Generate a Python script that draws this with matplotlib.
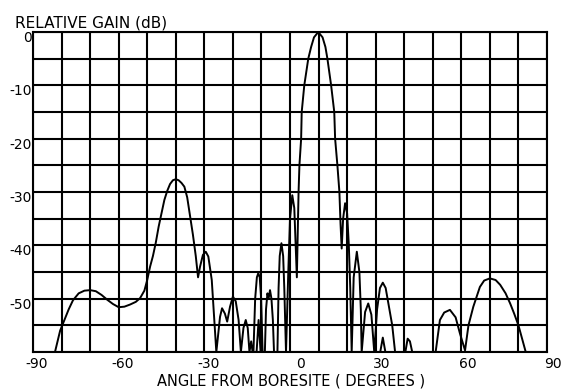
import matplotlib
matplotlib.use('Agg')
import matplotlib.pyplot as plt
import matplotlib.transforms as mtransforms

# main trace (angle in degrees, relative gain in dB)
angle = [-82.3, -80.5, -79.0, -77.5, -76.0, -74.0, -72.0, -70.0, -68.0, -66.0,
         -64.0, -62.0, -60.0, -58.0, -56.0, -54.0, -52.5, -51.0, -50.0, -49.0,
         -48.0, -47.0, -46.0, -45.0, -44.0, -43.0, -42.0, -41.0, -40.0, -39.0,
         -38.0, -37.0, -36.0, -35.0, -34.0, -33.0, -32.2, -31.5, -30.5, -29.5,
         -28.6, -27.4, -26.3, -25.8, -24.5, -23.8, -22.8, -22.0, -21.0, -20.0,
         -19.0, -18.0, -17.2, -16.3, -15.5, -14.8, -14.2, -13.6, -13.1, -12.8,
         -12.2, -11.6, -11.1, -10.6, -10.1, -9.6, -8.8, -8.4, -7.9, -7.5,
         -7.0, -6.5, -6.0, -5.6, -4.4, -4.0, -3.6, -3.0, -2.4, -2.0,
         -1.4, -0.6, 0.0, 0.8, 1.5, 2.1, 2.4, 2.7, 3.0, 3.3,
         3.9, 4.1, 5.0, 6.4, 7.4, 8.4, 9.9, 11.4, 12.4, 13.1,
         14.4, 15.5, 15.8, 16.6, 17.3, 17.7, 18.1, 18.6, 19.3, 20.0,
         20.6, 21.1, 21.6, 22.3, 23.4, 24.3, 24.8, 25.1, 26.3, 27.4,
         28.5, 29.5, 30.5, 31.5, 32.5, 33.5, 34.5, 35.8, 36.8, 40.4,
         41.2, 42.0, 42.8, 51.0, 52.5, 54.0, 56.0, 58.0, 59.5, 61.3,
         62.5, 64.2, 66.5, 68.0, 70.0, 72.0, 73.6, 75.5, 77.1, 78.5,
         80.0, 82.4]
gain = [-60.0, -56.0, -54.0, -52.0, -50.3, -49.0, -48.5, -48.4, -48.6, -49.3,
        -50.2, -51.0, -51.6, -51.5, -51.1, -50.6, -49.9, -48.5, -46.5, -44.0,
        -42.0, -39.5, -36.5, -34.0, -31.5, -29.8, -28.5, -27.8, -27.6, -27.8,
        -28.3, -29.0, -31.0, -34.5, -38.0, -42.0, -46.0, -44.0, -41.8, -41.2,
        -42.1, -46.5, -55.9, -60.0, -53.4, -51.8, -52.8, -54.3, -51.5, -49.6,
        -50.5, -54.0, -60.0, -55.5, -54.0, -55.5, -60.0, -58.0, -60.0, -60.0,
        -50.0, -46.0, -45.2, -46.0, -50.0, -60.0, -60.0, -52.0, -49.0, -50.0,
        -48.4, -50.0, -54.0, -60.0, -60.0, -48.0, -42.0, -39.6, -42.0, -48.0,
        -60.0, -45.0, -35.0, -30.6, -33.0, -42.0, -46.0, -38.0, -30.0, -25.0,
        -20.0, -15.0, -10.0, -5.0, -2.8, -1.0, 0.0, -1.0, -2.8, -5.0,
        -10.0, -15.0, -20.0, -25.0, -30.0, -36.0, -40.6, -35.0, -32.1, -34.0,
        -40.0, -48.0, -60.0, -46.0, -41.2, -45.0, -52.0, -60.0, -52.5, -50.9,
        -53.0, -60.0, -52.0, -48.0, -47.0, -48.0, -51.0, -55.0, -60.0, -60.0,
        -57.5, -58.0, -60.0, -60.0, -54.0, -52.6, -52.1, -53.5, -56.5, -59.7,
        -55.0, -51.5, -47.8, -46.6, -46.2, -46.5, -47.4, -49.0, -50.9, -52.8,
        -55.0, -59.7]

# small inner lobes drawn over the main trace
inner_angle = [-11.7, -11.0, -10.3, None, 31.6, 32.5, 33.4]
inner_gain = [-60.0, -54.0, -60.0, None, -60.0, -57.3, -60.0]

xtick_vals = [-90, -60, -30, 0, 30, 60, 90]
ytick_vals = [0, -10, -20, -30, -40, -50]

plt.rcParams['font.family'] = ['DejaVu Sans']
fig = plt.figure(figsize=(5.62, 3.90), dpi=100)
ax = fig.add_axes([33 / 562, 1 - 352 / 390, 514 / 562, 320 / 390])

ax.plot(angle, gain, color='black', lw=1.4)
ax.plot([float('nan') if a is None else a for a in inner_angle],
        [float('nan') if g is None else g for g in inner_gain],
        color='black', lw=1.4)

ax.set_xlim(-90, 90)
ax.set_ylim(-60, 0)
ax.set_xticks(range(-90, 91, 10))
ax.set_yticks(range(-60, 1, 5))
ax.grid(True, color='black', lw=1.5)
ax.tick_params(length=0, labelbottom=False, labelleft=False)
for s in ax.spines.values():
    s.set_linewidth(1.5)

# tick labels: right edges sit ~15 px right of the tick for x, flush with axis for y
xoff = mtransforms.ScaledTranslation(15 / 100, -5 / 100, fig.dpi_scale_trans)
for v in xtick_vals:
    ax.text(v, -60, str(v), ha='right', va='top', fontsize=10,
            transform=ax.transData + xoff)
yoff = mtransforms.ScaledTranslation(-1 / 100, 1 / 100, fig.dpi_scale_trans)
for v in ytick_vals:
    ax.text(-90, v, str(v), ha='right', va='top', fontsize=10,
            transform=ax.transData + yoff)

fig.text(15 / 562, 1 - 28 / 390, 'RELATIVE GAIN (dB)', fontsize=11, va='baseline')
fig.text(291 / 562, 1 - 381 / 390, 'ANGLE FROM BORESITE ( DEGREES )', fontsize=10.5,
         ha='center', va='center')

fig.savefig('out.png', dpi=100)
